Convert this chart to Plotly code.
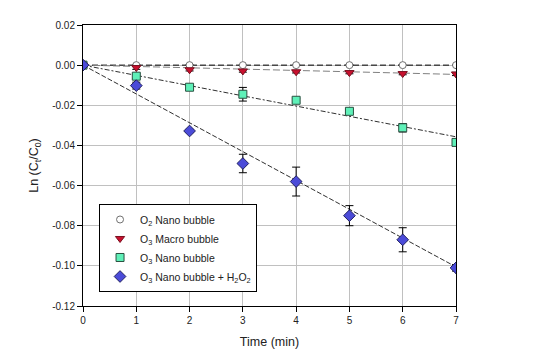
import plotly.graph_objects as go

time_min = [0, 1, 2, 3, 4, 5, 6, 7]

series_names = ["O<sub>2</sub> Nano bubble", "O<sub>3</sub> Macro bubble",
                "O<sub>3</sub> Nano bubble", "O<sub>3</sub> Nano bubble + H<sub>2</sub>O<sub>2</sub>"]

o2_nano = [0, 0, 0, 0, 0, 0, 0, 0]
o3_macro = [0, -0.0012, -0.0023, -0.0029, -0.0033, -0.0037, -0.0042, -0.0044]
o3_nano = [0, -0.0055, -0.011, -0.0145, -0.0175, -0.023, -0.0312, -0.0385]
o3_nano_h2o2 = [0, -0.0102, -0.0328, -0.049, -0.058, -0.075, -0.087, -0.101]

o2_nano_err = [0, 0, 0, 0, 0, 0, 0, 0]
o3_macro_err = [0, 0.0009, 0.0006, 0.0006, 0.0006, 0.0006, 0.0006, 0.0008]
o3_nano_err = [0, 0.0012, 0.0009, 0.0034, 0.0010, 0.0008, 0.0021, 0.0008]
o3_nano_h2o2_err = [0, 0.0017, 0.0008, 0.0046, 0.0072, 0.0050, 0.0060, 0.0016]

# linear fit slopes (through origin)
fit_slopes = [0.0, -0.00066, -0.0051, -0.01436]

y_ticks = [0.02, 0.0, -0.02, -0.04, -0.06, -0.08, -0.10, -0.12]
y_tick_text = [f"{v:.2f}" for v in y_ticks]
x_ticks = [0, 1, 2, 3, 4, 5, 6, 7]

values = [o2_nano, o3_macro, o3_nano, o3_nano_h2o2]
errors = [o2_nano_err, o3_macro_err, o3_nano_err, o3_nano_h2o2_err]
symbols = ["circle", "triangle-down", "square", "diamond"]
fills = ["white", "#c8102e", "#5ff0b8", "#4b4bd8"]
outlines = ["#707070", "#7a1020", "#2a5040", "#202060"]
sizes = [7, 8, 8, 9]
line_colors = ["#000000", "#808080", "#303030", "#303030"]
line_dash = ["6px,3px", "7px,3px", "5px,2px,2px,2px", "5px,2px"]

fig = go.Figure()

for slope, lc, ld in zip(fit_slopes, line_colors, line_dash):
    fig.add_trace(go.Scatter(
        x=[time_min[0], time_min[-1]],
        y=[slope * time_min[0], slope * time_min[-1]],
        mode="lines", line=dict(color=lc, width=1, dash=ld),
        showlegend=False, hoverinfo="skip"))

for name, v, e, s, f, o, sz in zip(series_names, values, errors, symbols, fills, outlines, sizes):
    fig.add_trace(go.Scatter(
        x=time_min, y=v, name=name, mode="markers",
        marker=dict(symbol=s, color=f, size=sz, line=dict(color=o, width=1)),
        error_y=dict(type="data", array=e, visible=True, color="black",
                     thickness=1, width=4)))

fig.update_layout(
    width=545, height=359,
    margin=dict(l=83, r=89, t=25, b=53, autoexpand=False),
    paper_bgcolor="white", plot_bgcolor="white",
    font=dict(family="Liberation Sans, Arial, sans-serif", size=10, color="#222222"),
    legend=dict(x=0.043, y=0.363, xanchor="left", yanchor="top",
                bordercolor="black", borderwidth=1, bgcolor="white",
                font=dict(size=10.5), tracegroupgap=0, itemwidth=30),
    xaxis=dict(range=[0, 7], tickvals=x_ticks, showgrid=True, gridcolor="#c0c0c0",
               gridwidth=1, zeroline=False, showline=True, linecolor="black",
               linewidth=1, mirror=True, ticks="outside", ticklen=5, tickcolor="black",
               automargin=False,
               title=dict(text="Time (min)", font=dict(size=12.5), standoff=12)),
    yaxis=dict(range=[-0.12, 0.02], tickvals=y_ticks, ticktext=y_tick_text,
               showgrid=True, gridcolor="#c0c0c0", gridwidth=1, zeroline=False,
               showline=True, linecolor="black", linewidth=1, mirror=True,
               ticks="outside", ticklen=5, tickcolor="black", automargin=False,
               title=dict(text="Ln (C<sub>t</sub>/C<sub>0</sub>)", font=dict(size=12.5), standoff=10)),
)

fig.write_html("out.html", config={"displayModeBar": False},
               post_script="document.body.style.margin='0px';")
